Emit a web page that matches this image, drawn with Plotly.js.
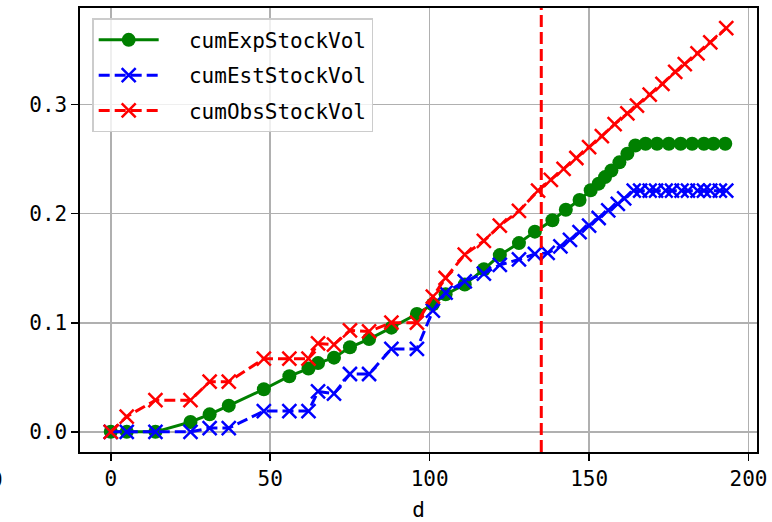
<!DOCTYPE html>
<html>
<head>
<meta charset="utf-8">
<script src="https://cdn.plot.ly/plotly-3.0.1.min.js"></script>
<style>html,body{margin:0;padding:0;background:#fff;}#chart{width:772px;height:522px;}</style>
</head>
<body>
<div id="chart"></div>
<script>
// ---- data ----
const xExp = [0,5,14,25,31,37,48,56,62,65,70,75,81,88,96,101,105,111,117,122,128,133,138.5,142.7,147,150.5,153,155,157,159.5,162,164.5,167.7,171.3,175,178.7,182.3,186,189,192.7];
const yExp = [0,0,0,0.009,0.016,0.024,0.039,0.051,0.058,0.063,0.068,0.0775,0.085,0.0955,0.108,0.117,0.126,0.135,0.149,0.162,0.173,0.1835,0.194,0.2035,0.2125,0.2215,0.2275,0.2335,0.2395,0.247,0.255,0.2625,0.264,0.264,0.264,0.264,0.264,0.264,0.264,0.264];

const xEst = [0,5,14,25,31,37,48,56,62,65,70,75,81,88,96,101,105,111,117,122,128,133,137,141,144,147,150,153,156,159,161,164,166,169,171,174,176,179,181,184,186,188,191,193];
const yEst = [0,0,0,0,0.0034,0.0034,0.019,0.019,0.019,0.037,0.035,0.053,0.053,0.076,0.076,0.111,0.1275,0.138,0.145,0.153,0.158,0.163,0.164,0.170,0.176,0.183,0.189,0.196,0.203,0.209,0.214,0.221,0.221,0.221,0.221,0.221,0.221,0.221,0.221,0.221,0.221,0.221,0.221,0.221];

const xObs = [0,5,14,25,31,37,48,56,62,65,70,75,81,88,96,101,105,111,117,122,128,134,138,142,146,150,154,158,162,165,169,173,177,180,184,188,193];
const yObs = [0,0.014,0.029,0.029,0.046,0.046,0.067,0.067,0.067,0.081,0.080,0.093,0.092,0.100,0.100,0.124,0.141,0.1625,0.175,0.189,0.2025,0.221,0.231,0.241,0.251,0.261,0.271,0.282,0.292,0.299,0.309,0.319,0.330,0.337,0.347,0.357,0.370];

const seriesNames = ['cumExpStockVol','cumEstStockVol','cumObsStockVol'];
const vlineX = 135;
const xTicks = [0,50,100,150,200];
const yTicks = [0,0.1,0.2,0.3];
const xLabel = 'd';
const strayLabel = '0';

// ---- chart ----
const pad = '\u00A0\u00A0';
const FONT = 'DejaVu Sans Mono, monospace';
const traces = [
  {x:xExp, y:yExp, name:pad+seriesNames[0], legendgroup:'g1', mode:'lines+markers', type:'scatter',
   line:{color:'#008000', width:3}, marker:{symbol:'circle', size:14, color:'#008000'}},
  {x:xEst, y:yEst, name:pad+seriesNames[1], legendgroup:'g2', mode:'lines+markers', type:'scatter',
   line:{color:'#0000ff', width:3, dash:'11px,5px'},
   marker:{symbol:'x-thin-open', size:14, color:'#0000ff', line:{color:'#0000ff', width:2.5}}},
  {x:xObs, y:yObs, name:pad+seriesNames[2], legendgroup:'g3', mode:'lines+markers', type:'scatter',
   line:{color:'#ff0000', width:3, dash:'11px,5px'},
   marker:{symbol:'x-thin-open', size:14, color:'#ff0000', line:{color:'#ff0000', width:2.5}}}
];

const axisCommon = {
  showgrid:true, gridcolor:'#b0b0b0', gridwidth:1.6, zeroline:false,
  showline:true, linecolor:'black', linewidth:1.6, mirror:true,
  ticks:'outside', ticklen:7, tickwidth:1.6, tickcolor:'black',
  tickfont:{family:FONT, size:21, color:'black'}
};

const layout = {
  width:772, height:522,
  margin:{l:80, r:15, t:8, b:70},
  paper_bgcolor:'white', plot_bgcolor:'white',
  font:{family:FONT, size:21, color:'black'},
  showlegend:true,
  legend:{x:0.018, y:0.977, xanchor:'left', yanchor:'top',
    bgcolor:'rgba(255,255,255,0.8)', bordercolor:'#cccccc', borderwidth:1.5,
    font:{family:FONT, size:21, color:'black'}, itemwidth:60, tracegroupgap:5},
  xaxis:Object.assign({}, axisCommon, {range:[-9.65,202.65], tickvals:xTicks,
    title:{text:xLabel, font:{family:FONT, size:21, color:'black'}, standoff:14}}),
  yaxis:Object.assign({}, axisCommon, {range:[-0.0185,0.3885], tickvals:yTicks, tickformat:'.1f'}),
  shapes:[{type:'line', xref:'x', yref:'paper', x0:vlineX, x1:vlineX, y0:0, y1:1,
    line:{color:'#ff0000', width:3, dash:'12px,5px'}}],
  annotations:[{text:strayLabel, xref:'paper', yref:'paper', x:-0.111, y:-0.063,
    xanchor:'right', yanchor:'middle', showarrow:false,
    font:{family:FONT, size:21, color:'black'}}]
};

Plotly.newPlot('chart', traces, layout, {displayModeBar:false, staticPlot:true});
</script>
</body>
</html>
